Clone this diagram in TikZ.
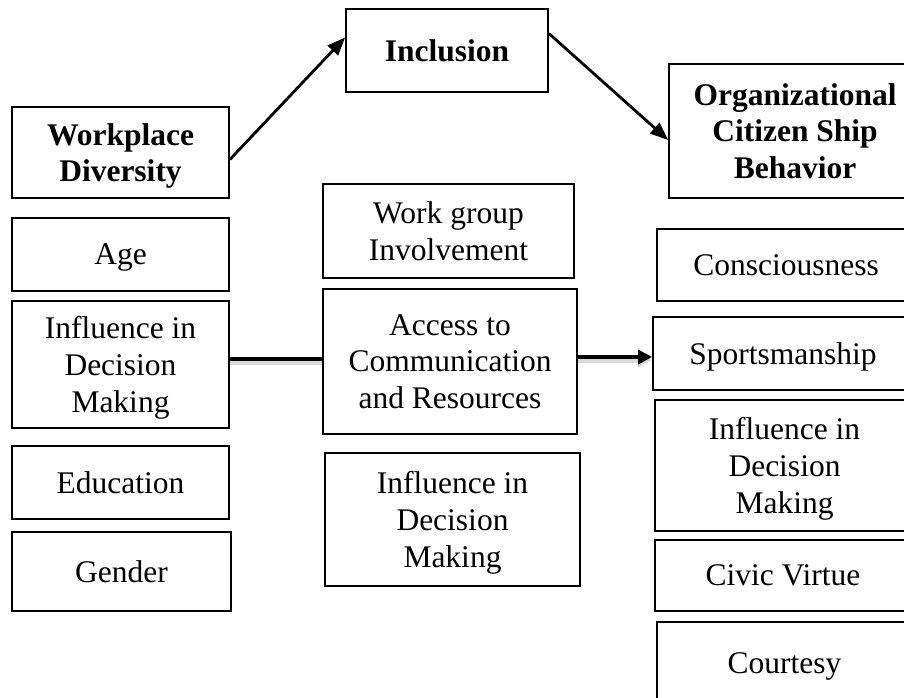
\documentclass[tikz,border=0pt]{standalone}
\usepackage{fontspec}
\setmainfont{Liberation Serif}
\usetikzlibrary{arrows.meta}

\begin{document}
\begin{tikzpicture}[x=1pt, y=-1pt,
    box/.style={draw, line width=1.8pt, align=center, inner sep=0pt, text depth=0pt,
      font=\fontsize{31.5}{36.7}\selectfont},
    headBox/.style={box, font=\fontsize{31.5}{36.7}\selectfont\bfseries},
    arr/.style={line width=2.8pt, -{Triangle[length=18pt, width=14pt]}},
    bar/.style={line width=4.6pt,
      preaction={draw=black!15, line width=5pt, transform canvas={yshift=-3pt}}}]
      \useasboundingbox (0, 0) rectangle (904, 698);
      \clip (0, 0) rectangle (904, 698);

      % main constructs
      \node[headBox, minimum width=217pt, minimum height=91pt] (wDiv) at (120.5, 152.5) {Workplace\\Diversity};
      \node[headBox, minimum width=202pt, minimum height=83pt] (incl) at (447, 50.5) {Inclusion};
      \node[headBox, minimum width=252pt, minimum height=134pt] (ocb) at (795, 131) {Organizational\\Citizen Ship\\Behavior};

      % workplace diversity
      \node[box, minimum width=217pt, minimum height=73pt] (age) at (120.5, 254.5) {Age};
      \node[box, minimum width=217pt, minimum height=127pt] (idmL) at (120.5, 364.5) {Influence in\\Decision\\Making};
      \node[box, minimum width=217pt, minimum height=73pt] (edu) at (120.5, 482.5) {Education};
      \node[box, minimum width=219pt, minimum height=79pt] (gender) at (121.5, 571.5) {Gender};

      % inclusion
      \node[box, minimum width=251pt, minimum height=94pt] (wgi) at (448.5, 231) {Work group\\Involvement};
      \node[box, minimum width=254pt, minimum height=145pt] (access) at (450, 361.5) {Access to\\Communication\\and Resources};
      \node[box, minimum width=255pt, minimum height=133pt] (idmM) at (452.5, 519.5) {Influence in\\Decision\\Making};

      % citizenship behavior
      \node[box, minimum width=258pt, minimum height=72pt] (consc) at (786, 265) {Consciousness};
      \node[box, minimum width=260pt, minimum height=73pt] (sport) at (783, 353.5) {Sportsmanship};
      \node[box, minimum width=259pt, minimum height=131pt] (idmR) at (784.5, 465.5) {Influence in\\Decision\\Making};
      \node[box, minimum width=256pt, minimum height=71pt] (civic) at (783, 575.5) {Civic Virtue};
      \node[box, minimum width=255pt, minimum height=82pt] (court) at (784.5, 663) {Courtesy};

      \draw[arr] ([yshift=-7pt]wDiv.east) -- ([yshift=13pt]incl.west);
      \draw[arr] ([yshift=17pt]incl.east) -- ([yshift=-9pt]ocb.west);
      \draw[bar] ([yshift=5.5pt]idmL.east) -- ([yshift=5.5pt]idmL.east -| access.west);
      \draw[bar, -{Triangle[length=14pt, width=14pt]}] ([yshift=4.5pt]access.east) -- ([yshift=4.5pt]access.east -| sport.west);
    \end{tikzpicture}
\end{document}
